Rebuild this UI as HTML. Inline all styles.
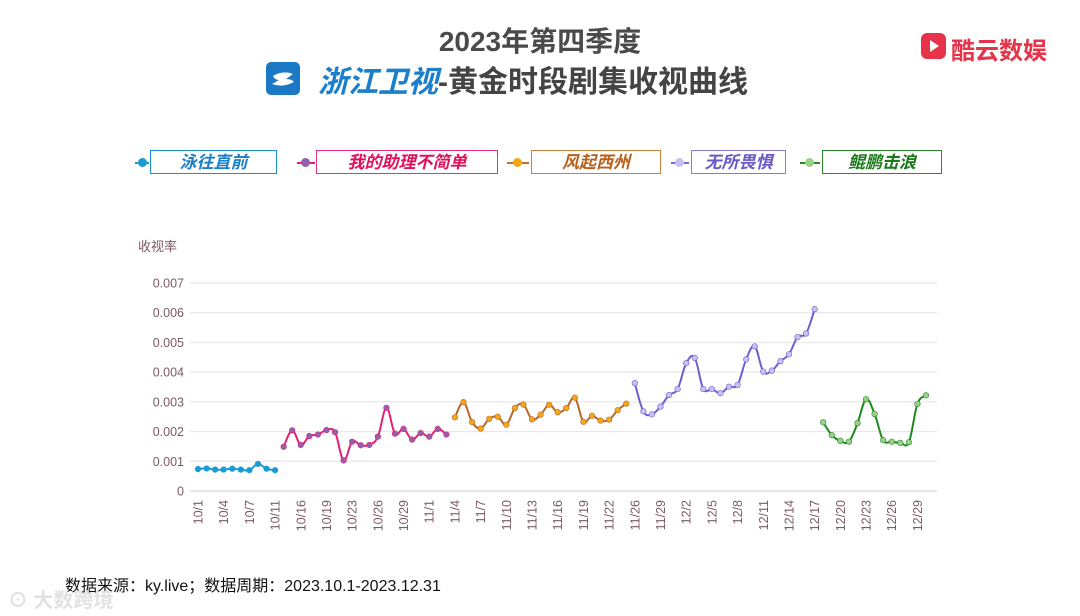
<!DOCTYPE html>
<html><head><meta charset="utf-8"><style>
body{margin:0;width:1080px;height:616px;background:#fff;overflow:hidden;font-family:"Liberation Sans","Noto Sans CJK SC",sans-serif;position:relative}
.abs{position:absolute}
.leg{position:absolute;top:150px;height:24px;border:1px solid;box-sizing:border-box;font-weight:bold;font-style:italic;font-size:17px;text-align:center;line-height:23px}
.lm{position:absolute;top:162px;height:2px}
.dot{position:absolute;top:158px;width:9px;height:9px;border-radius:50%}
</style></head><body>
<div class="abs" style="left:0;width:1080px;top:20px;text-align:center;font-size:28px;font-weight:bold;color:#4a4a4a">2023年第四季度</div>
<div class="abs" style="left:266px;top:62px;width:34px;height:33px;background:#1b78c4;border-radius:5px"><svg width="34" height="33"><path d="M7 14 Q17 8 27 12 L20 17 Q26 17 28 20 Q17 26 6 22 L13 18 Q9 18 7 14Z" fill="#fff"/></svg></div>
<div class="abs" style="left:318px;top:57px;font-size:30px;font-weight:bold;color:#444;white-space:nowrap"><span style="color:#1b7fcc;font-style:italic">浙江卫视</span>-黄金时段剧集收视曲线</div>
<div class="abs" style="left:921px;top:33px;width:25px;height:26px;background:#e8344a;border-radius:6px"><svg width="25" height="26"><path d="M9 7 L18 13 L9 19Z" fill="#fff"/></svg></div>
<div class="abs" style="left:951px;top:31px;font-size:24px;font-weight:bold;color:#e8344a">酷云数娱</div>

<div class="lm" style="left:135px;width:14px;background:#1a9ad6"></div><div class="dot" style="left:138px;background:#1a9ad6"></div>
<div class="leg" style="left:150px;width:127px;border-color:#1a8fd0;color:#1a7fc8">泳往直前</div>
<div class="lm" style="left:297px;width:18px;background:#e0206e"></div><div class="dot" style="left:301px;background:#8e62b0"></div>
<div class="leg" style="left:316px;width:182px;border-color:#e8307a;color:#e0105e">我的助理不简单</div>
<div class="lm" style="left:507px;width:22px;background:#c07030"></div><div class="dot" style="left:513px;background:#f4a817"></div>
<div class="leg" style="left:531px;width:130px;border-color:#c8803a;color:#b8601a">风起西州</div>
<div class="lm" style="left:671px;width:18px;background:#7a6ad0"></div><div class="dot" style="left:675px;background:#c8c0f0"></div>
<div class="leg" style="left:691px;width:95px;border-color:#8878d8;color:#6a58c8">无所畏惧</div>
<div class="lm" style="left:800px;width:20px;background:#2a8a2a"></div><div class="dot" style="left:805px;background:#9ad08a"></div>
<div class="leg" style="left:822px;width:120px;border-color:#2a8a2a;color:#1a7a1a">鲲鹏击浪</div>

<svg id="chart" class="abs" style="left:0;top:0" width="1080" height="616"></svg>

<div class="abs" style="left:65px;top:572px;font-size:16px;color:#111">数据来源：ky.live；数据周期：2023.10.1-2023.12.31</div>
<div class="abs" style="left:8px;top:584px;font-size:20px;color:#e2e2e2;font-weight:bold">⊙ 大数跨境</div>
<script>
const categories=["10/1","10/2","10/3","10/4","10/5","10/6","10/7","10/9","10/10","10/11","10/14","10/15","10/16","10/17","10/18","10/19","10/20","10/21","10/23","10/24","10/25","10/26","10/27","10/28","10/29","10/30","10/31","11/1","11/2","11/3","11/4","11/5","11/6","11/7","11/8","11/9","11/10","11/11","11/12","11/13","11/14","11/15","11/16","11/17","11/18","11/19","11/20","11/21","11/22","11/23","11/24","11/26","11/27","11/28","11/29","11/30","12/1","12/2","12/3","12/4","12/5","12/6","12/7","12/8","12/9","12/10","12/11","12/12","12/13","12/14","12/15","12/16","12/17","12/18","12/19","12/20","12/21","12/22","12/23","12/24","12/25","12/26","12/27","12/28","12/29","12/30"];
const yTicks=[0,0.001,0.002,0.003,0.004,0.005,0.006,0.007];
const yTickLabels=["0","0.001","0.002","0.003","0.004","0.005","0.006","0.007"];
const s1Start=0;
const s1=[0.00074,0.00076,0.00072,0.00072,0.00075,0.00072,0.0007,0.00091,0.00075,0.0007];
const s2Start=10;
const s2=[0.00149,0.00204,0.00155,0.00185,0.0019,0.00205,0.00198,0.00103,0.00166,0.00154,0.00155,0.00183,0.0028,0.00193,0.00209,0.00173,0.00195,0.00183,0.00209,0.0019];
const s3Start=30;
const s3=[0.00248,0.00299,0.00232,0.0021,0.00243,0.0025,0.00223,0.00279,0.00291,0.00241,0.00257,0.0029,0.00265,0.00279,0.00314,0.00233,0.00253,0.00237,0.0024,0.00272,0.00294];
const s4Start=51;
const s4=[0.00363,0.00268,0.00258,0.00284,0.00323,0.00343,0.0043,0.00448,0.00343,0.00343,0.00329,0.00351,0.00357,0.00443,0.00487,0.00402,0.00405,0.00437,0.0046,0.00518,0.0053,0.00612];
const s5Start=73;
const s5=[0.00231,0.00188,0.00169,0.00166,0.00228,0.00309,0.00259,0.00171,0.00166,0.00162,0.00164,0.00293,0.00322];

const NS="http://www.w3.org/2000/svg";
const svg=document.getElementById('chart');
const X0=198,STEP=728/(categories.length-1);
const x=i=>X0+i*STEP;
const y=v=>491-v/0.007*208;
function el(t,a){const e=document.createElementNS(NS,t);for(const k in a)e.setAttribute(k,a[k]);svg.appendChild(e);return e;}
const yt=el('text',{x:138,y:251,'font-size':13,fill:'#7a5a68'});yt.textContent='收视率';


yTicks.forEach((v,i)=>{
  const g=el('line',{x1:190,x2:937,y1:y(v),y2:y(v),stroke:i==0?'#d8d8d8':'#e8e8e8','stroke-width':1.2});
  
  
  const t=el('text',{x:184,y:y(v)+4.5,'text-anchor':'end','font-size':12.5,fill:'#7a5a68'});
  t.textContent=yTickLabels[i];
  
  
});
categories.forEach((c,i)=>{
  if(i%3)return;
  const t=el('text',{x:0,y:0,'text-anchor':'end','font-size':12.5,fill:'#7a5a68',transform:`translate(${x(i)+4.5},500) rotate(-90)`});
  t.textContent=c;
  
  
});
function smooth(p){let d=`M${p[0][0]},${p[0][1]}`;for(let i=0;i<p.length-1;i++){const p0=p[i-1]||p[i],p1=p[i],p2=p[i+1],p3=p[i+2]||p2;const t=0.18;d+=` C${p1[0]+(p2[0]-p0[0])*t},${p1[1]+(p2[1]-p0[1])*t} ${p2[0]-(p3[0]-p1[0])*t},${p2[1]-(p3[1]-p1[1])*t} ${p2[0]},${p2[1]}`;}return d;}
function series(data,start,line,dot,name,r){
  const pts=data.map((v,i)=>[x(start+i),y(v)]);
  const p=el('path',{d:smooth(pts),fill:'none',stroke:line,'stroke-width':2});
  
  
  pts.forEach(q=>{const c=el('circle',{cx:q[0],cy:q[1],r:r,fill:dot,stroke:line,'stroke-width':0.6});
    
    });
}
series(s1,s1Start,'#1a9ad6','#1a9ad6','yongwangzhiqian',2.8);
series(s2,s2Start,'#e8206e','#8e62b0','wodezhuli',2.8);
series(s3,s3Start,'#b8682a','#f4a817','fengqixizhou',2.8);
series(s4,s4Start,'#6e5ed0','#c8c0f0','wusuoweiju',2.8);
series(s5,s5Start,'#1e8a1e','#9ad08a','kunpengjilang',2.8);
</script>
</body></html>
